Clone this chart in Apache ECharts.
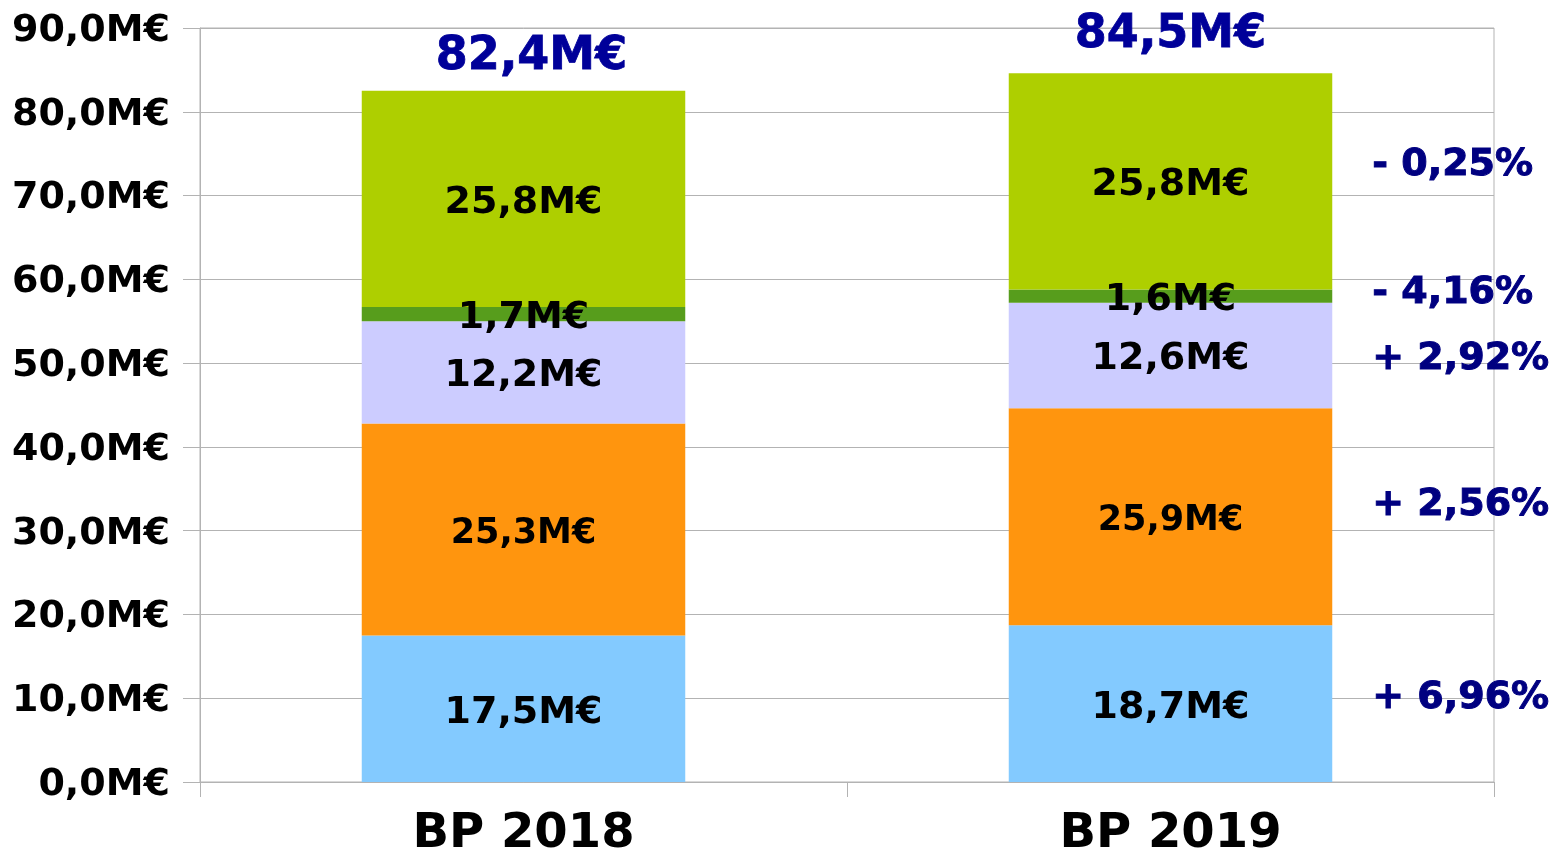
<!DOCTYPE html>
<html>
<head>
<meta charset="utf-8">
<script src="https://cdn.jsdelivr.net/npm/echarts@6/dist/echarts.min.js"></script>
<style>
  html, body { margin: 0; padding: 0; background: #fff; }
  #chart { width: 1550px; height: 858px; }
</style>
</head>
<body>
<div id="chart"></div>
<script>
// données (M€)
const categories = ['BP 2018', 'BP 2019']
const segmentNames = ['Part 1', 'Part 2', 'Part 3', 'Part 4', 'Part 5']
const blueValues = [17.5, 18.7]
const orangeValues = [25.3, 25.9]
const lavenderValues = [12.2, 12.6]
const darkGreenValues = [1.7, 1.6]
const greenValues = [25.8, 25.8]
const totals = [82.4, 84.5]
const evolution2019 = ['+ 6,96%', '+ 2,56%', '+ 2,92%', '- 4,16%', '- 0,25%']
const yTicks = [0, 10, 20, 30, 40, 50, 60, 70, 80, 90]

const segments = [blueValues, orangeValues, lavenderValues, darkGreenValues, greenValues]
const colors = ['#83CAFF', '#FF950E', '#CCCCFF', '#579D1C', '#AECF00']
const labelSizes = [38, 35, 38, 38, 38]
const pctOffsets = [-6, -12, 4, -3, -16] // décalage vertical des %

const fmt = v => v.toFixed(1).replace('.', ',') + 'M€'
const gridColor = '#b3b3b3'
const font = 'DejaVu Sans'

const chart = echarts.init(document.getElementById('chart'))

const series = []
segments.forEach((vals, i) => {
  series.push({
    name: segmentNames[i],
    type: 'bar',
    stack: 'main',
    barWidth: '50%',
    barGap: '-100%',
    itemStyle: { color: colors[i] },
    label: {
      show: true,
      position: 'inside',
      offset: [0, 4],
      color: '#000',
      fontFamily: font,
      fontWeight: 'bold',
      fontSize: labelSizes[i],
      formatter: p => fmt(p.value)
    },
    data: vals
  })
})
// pourcentages d'évolution (série transparente superposée)
segments.forEach((vals, i) => {
  series.push({
    name: segmentNames[i] + ' %',
    type: 'bar',
    stack: 'overlay',
    barWidth: '50%',
    silent: true,
    itemStyle: { color: 'rgba(0,0,0,0)' },
    data: vals.map((v, j) => ({
      value: v,
      label: {
        show: j === 1,
        position: 'right',
        distance: 40,
        offset: [0, pctOffsets[i]],
        formatter: evolution2019[i],
        color: '#000080',
        fontFamily: font,
        fontWeight: 'bold',
        fontSize: 38,
        textBorderColor: '#000080',
        textBorderWidth: 1
      }
    }))
  })
})
// totaux
series.push({
  name: 'Total',
  type: 'bar',
  stack: 'overlay',
  barWidth: '50%',
  silent: true,
  itemStyle: { color: 'rgba(0,0,0,0)' },
  data: totals.map((t, j) => ({
    value: 0,
    label: {
      show: true,
      position: 'top',
      distance: j === 0 ? 11 : 15,
      offset: [j === 0 ? 8 : 0, 0],
      formatter: fmt(t),
      color: '#000099',
      fontFamily: font,
      fontWeight: 'bold',
      fontSize: 46,
      textBorderColor: '#000099',
      textBorderWidth: 0.8
    }
  }))
})

chart.setOption({
  animation: false,
  backgroundColor: '#fff',
  grid: {
    left: 200,
    right: 56,
    top: 28,
    bottom: 76,
    outerBoundsMode: 'none',
    show: true,
    borderColor: gridColor,
    borderWidth: 1
  },
  xAxis: {
    type: 'category',
    data: categories,
    axisLine: { show: true, lineStyle: { color: gridColor } },
    axisTick: { show: true, length: 15, lineStyle: { color: gridColor } },
    axisLabel: {
      margin: 29,
      color: '#000',
      fontFamily: font,
      fontWeight: 'bold',
      fontSize: 48
    }
  },
  yAxis: {
    type: 'value',
    min: yTicks[0],
    max: yTicks[yTicks.length - 1],
    interval: 10,
    axisLine: { show: true, lineStyle: { color: gridColor } },
    axisTick: { show: true, length: 17, lineStyle: { color: gridColor } },
    splitLine: { show: true, lineStyle: { color: gridColor } },
    axisLabel: {
      margin: 30,
      verticalAlign: 'top',
      lineHeight: 6,
      color: '#000',
      fontFamily: font,
      fontWeight: 'bold',
      fontSize: 38,
      formatter: v => fmt(v)
    }
  },
  series: series
})
</script>
</body>
</html>
